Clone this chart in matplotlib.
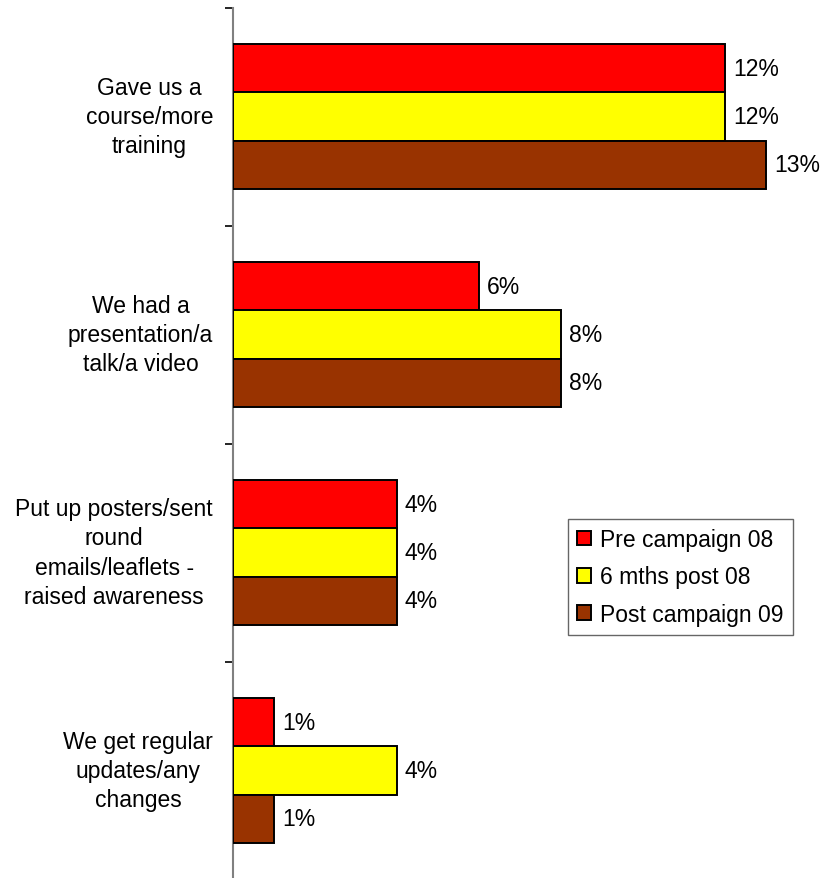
import matplotlib
matplotlib.use("Agg")
import matplotlib.pyplot as plt
import numpy as np

plt.rcParams['font.family'] = ['Liberation Sans', 'DejaVu Sans']

categories = [
    "Gave us a\ncourse/more\ntraining",
    "We had a\npresentation/a\ntalk/a video",
    "Put up posters/sent\nround\nemails/leaflets -\nraised awareness",
    "We get regular\nupdates/any\nchanges",
]
series_names = ["Pre campaign 08", "6 mths post 08", "Post campaign 09"]
pre_campaign_08 = [12, 6, 4, 1]
six_mths_post_08 = [12, 8, 4, 4]
post_campaign_09 = [13, 8, 4, 1]
series_values = [pre_campaign_08, six_mths_post_08, post_campaign_09]
colors = ["#FF0000", "#FFFF00", "#993300"]

W, H = 823, 879
fig = plt.figure(figsize=(W / 100, H / 100), dpi=100)
ax_left = 232.5 / W
ax_top = 8.5
ax_bottom = 880.5
ax = fig.add_axes([ax_left, (H - ax_bottom) / H, 574 / W, (ax_bottom - ax_top) / H])

n = len(categories)
bar_h = 0.222
fs = 16.5
ypos = np.arange(n)
for k, (vals, col) in enumerate(zip(series_values, colors)):
    offs = (k - 1) * bar_h
    ys = ypos + offs
    ax.barh(ys, vals, height=bar_h, color=col, edgecolor='black', linewidth=1.4,
            label=series_names[k], zorder=3)
    for y, v in zip(ys, vals):
        ax.annotate(f"{v}%", xy=(v, y), xytext=(6, 0), textcoords='offset points',
                    ha='left', va='center', fontsize=fs, color='black')

ax.set_xlim(0, 14)
ax.set_ylim(n - 0.5, -0.5)
for s in ['top', 'right', 'bottom']:
    ax.spines[s].set_visible(False)
ax.spines['left'].set_color('#808080')
ax.spines['left'].set_linewidth(1.5)
ax.set_xticks([])
ax.set_yticks(np.arange(n + 1) - 0.5)
ax.set_yticklabels([])
ax.tick_params(axis='y', length=6, width=1.2, color='black', direction='out')

for y, lab in zip(ypos, categories):
    ax.annotate(lab, xy=(0, y), xytext=(-14, 0), textcoords='offset points',
                ha='right', va='center', multialignment='center',
                fontsize=fs, linespacing=1.36, color='black')

leg = ax.legend(loc='upper left', bbox_to_anchor=((568 - 232.5) / 574, 1 - (520 - 8.5) / 872),
                frameon=True, fancybox=False, edgecolor='#404040', fontsize=fs,
                handlelength=0.6, handleheight=0.6, handletextpad=0.4,
                labelspacing=0.62, borderpad=0.4, borderaxespad=0)
leg.get_frame().set_linewidth(1.0)

fig.savefig("out.png", dpi=100)
